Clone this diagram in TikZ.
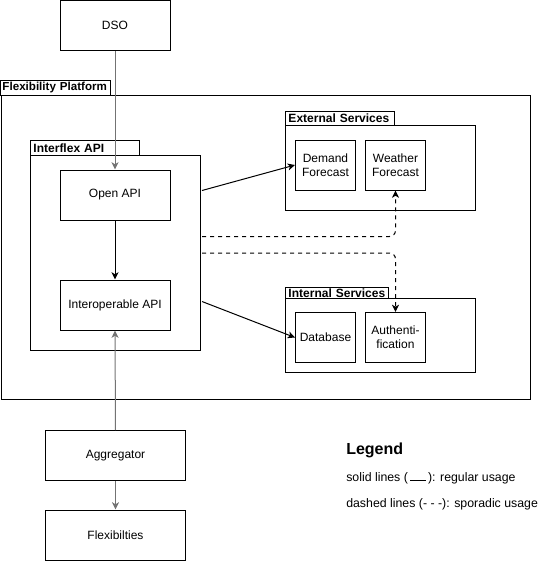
\documentclass[tikz,border=0pt]{standalone}
\usepackage{fontspec}
\setmainfont{Liberation Sans}
\usetikzlibrary{arrows.meta}
\newdimen\pxu \pxu=0.75pt
\newcommand{\nfont}{\fontsize{9}{10.75}\selectfont}
\newcommand{\bfont}{\fontsize{9}{10.75}\selectfont\bfseries}
\definecolor{lgray}{gray}{0.45}
\tikzset{
  box/.style={draw, fill=white, line width=0.75pt, inner sep=0pt, align=center, font=\nfont},
  cont/.style={draw, line width=0.75pt, inner sep=0pt},
  tab/.style={draw, line width=0.75pt, inner xsep=2.25pt, inner ysep=0pt, font=\bfont, align=left},
  arr/.style={-{Stealth[length=5.5pt,width=5.25pt,inset=1.6pt]}, line width=0.75pt},
  dsh/.style={arr, dash pattern=on 3pt off 3pt, rounded corners=4.5pt},
  gline/.style={arr, draw=lgray},
  legtxt/.style={anchor=west, inner sep=0pt, font=\fontsize{9.25}{11}\selectfont},
}
\begin{document}
\begin{tikzpicture}[x=0.75pt, y=-0.75pt]
\useasboundingbox (0,0) rectangle (552,562);

% Flexibility Platform
\node[cont, minimum width=529\pxu, minimum height=304\pxu] (fp) at (265.5,247) {};
\node[tab, inner xsep=1.5pt, text width=106\pxu, minimum height=15\pxu, font=\fontsize{8.7}{10.5}\selectfont\bfseries] (fptab) at (55.5,87.5) {\mbox{Flexibility Platform}};

% Interflex API
\node[cont, minimum width=170\pxu, minimum height=195\pxu] (ifx) at (115.5,252.5) {};
\node[tab, text width=103\pxu, minimum height=14.5\pxu] (ifxtab) at (85,147.75) {\mbox{Interflex API}};

% External Services
\node[cont, minimum width=190\pxu, minimum height=84.5\pxu] (ext) at (380.5,167.75) {};
\node[tab, text width=102.5\pxu, minimum height=14.5\pxu] (exttab) at (339.75,118.25) {\mbox{External Services}};

% Internal Services
\node[tab, text width=97\pxu, minimum height=10.5\pxu, text depth=-1.5pt] (inttab) at (337,292.75) {\mbox{Internal Services}};
\node[cont, minimum width=190\pxu, minimum height=74.5\pxu] (int) at (380.5,335.25) {};

% boxes
\node[box, minimum width=110\pxu, minimum height=50\pxu] (dso) at (115,25.5) {DSO};
\node[box, minimum width=110\pxu, minimum height=50\pxu] (oapi) at (115,195) {Open API};
\node[box, minimum width=110\pxu, minimum height=50\pxu] (iapi) at (115,305) {Interoperable API};
\node[box, minimum width=60\pxu, minimum height=50\pxu] (dem) at (325.5,165) {Demand\\Forecast};
\node[box, minimum width=60\pxu, minimum height=50\pxu] (wea) at (395.5,165) {Weather\\Forecast};
\node[box, minimum width=60\pxu, minimum height=50\pxu] (db) at (325.5,337.5) {Database};
\node[box, minimum width=60\pxu, minimum height=50\pxu] (auth) at (395.5,337.5) {Authenti-\\fication};
\node[box, minimum width=140\pxu, minimum height=50\pxu] (agg) at (115.5,455.5) {Aggregator};
\node[box, minimum width=140\pxu, minimum height=50\pxu] (flex) at (115.5,535) {Flexibilties};

% connector start points on the Interflex API edge
\coordinate (s1) at (202,190.5);
\coordinate (s2) at (202,236.5);
\coordinate (s3) at (202,253);
\coordinate (s4) at (202,301.5);

% connectors
\draw[gline] (dso.south) -- (oapi.north);
\draw[arr] (oapi.south) -- (iapi.north);
\draw[gline] (agg.north) -- (iapi.south);
\draw[gline] (agg.south) -- (flex.north);
\draw[arr] (s1) -- (dem.west);
\draw[arr] (s4) -- (db.west);
\draw[dsh] (s2) -| (wea.south);
\draw[dsh] (s3) -| (auth.north);

% legend
\node[anchor=west, inner sep=0pt, font=\fontsize{12}{14}\selectfont\bfseries] (leg) at (346,450) {Legend};
\node[legtxt] (leg1) at (346,478) {solid lines (\,\rule{12pt}{0.6pt}\,): regular usage};
\node[legtxt] (leg2) at (346,504.5) {dashed lines (- - -): sporadic usage};
\end{tikzpicture}
\end{document}
